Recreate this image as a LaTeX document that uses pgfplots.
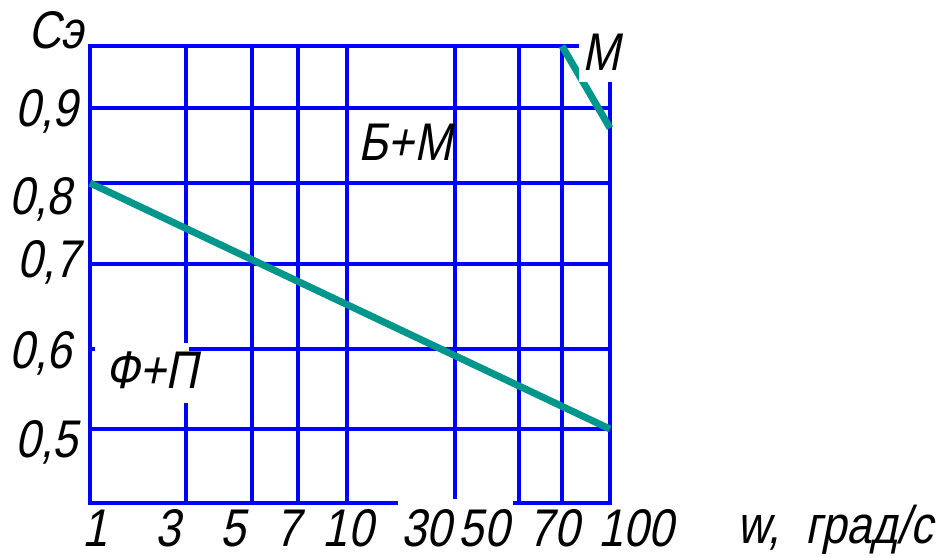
\documentclass[border=0pt]{standalone}
\usepackage{fontspec}
\setmainfont{Liberation Sans}[FakeSlant=0.2,FakeStretch=0.85]
\usepackage{pgfplots}
\pgfplotsset{compat=1.18}
\definecolor{gridblue}{RGB}{0,0,255}
\definecolor{tealline}{RGB}{0,150,140}
\newcommand\sh[2]{\makebox[0pt]{\hspace*{#1}#2\hspace*{-#1}}}
\begin{document}
\fontsize{53bp}{60bp}\selectfont
\begin{tikzpicture}
\begin{axis}[
  x=260bp, y=820bp,
  xmin=0, xmax=2, ymin=0.4098, ymax=0.9671,
  clip=false,
  axis line style={gridblue, line width=4bp},
  grid=major,
  major grid style={gridblue, line width=4bp},
  major tick length=0pt,
  xtick={0,0.3692,0.6231,0.8,0.9885,1.4038,1.65,1.8154,2},
  xticklabels={\sh{5bp}{1},\sh{-18bp}{3},\sh{-19bp}{5},\sh{-10bp}{7},\sh{1bp}{10},\sh{-28bp}{30},\sh{-35bp}{50},\sh{-8bp}{70},\sh{26bp}{100}},
  ytick={0.5,0.5976,0.7012,0.8,0.8915},
  yticklabels={{\raisebox{-9bp}{0,5}},{\raisebox{-1bp}{0,6}\hspace*{6bp}},{\raisebox{6bp}{0,7}\hspace*{-2bp}},{\raisebox{-12bp}{0,8}\hspace*{6bp}},{0,9}},
  tick label style={font=\fontsize{53bp}{60bp}\selectfont, inner sep=0pt},
  xticklabel style={anchor=base, yshift=-44bp},
  yticklabel style={anchor=base east, xshift=-12bp, yshift=-19bp},
]
\addplot[tealline, line width=7bp] coordinates {(0,0.8) (2,0.5)};
\addplot[tealline, line width=7bp] coordinates {(1.8154,0.9671) (2,0.867)};
\fill[white] (axis cs:1.8808,0.9232) rectangle (axis cs:2.2,1.02);
\fill[white] (axis cs:0.0192,0.5317) rectangle (axis cs:0.3808,0.6049);
\fill[white] (axis cs:1.1846,0.4060) rectangle (axis cs:1.6269,0.4146);
\node[anchor=base west, inner sep=0pt] at (axis cs:1.0308,0.828) {Б+М};
\node[anchor=base west, inner sep=0pt] at (axis cs:1.892,0.9378) {М};
\node[anchor=base west, inner sep=0pt] at (axis cs:0.0577,0.55) {Ф+П};
\node[anchor=base west, inner sep=0pt] at (axis cs:-0.2385,0.9646) {Сэ};
\node[anchor=base west, inner sep=0pt] at (axis cs:2.49,0.361) {w,\ \ град/с};
\path (axis cs:-0.3462,0.3439) rectangle (axis cs:3.3115,1.0232);
\end{axis}
\end{tikzpicture}
\end{document}
